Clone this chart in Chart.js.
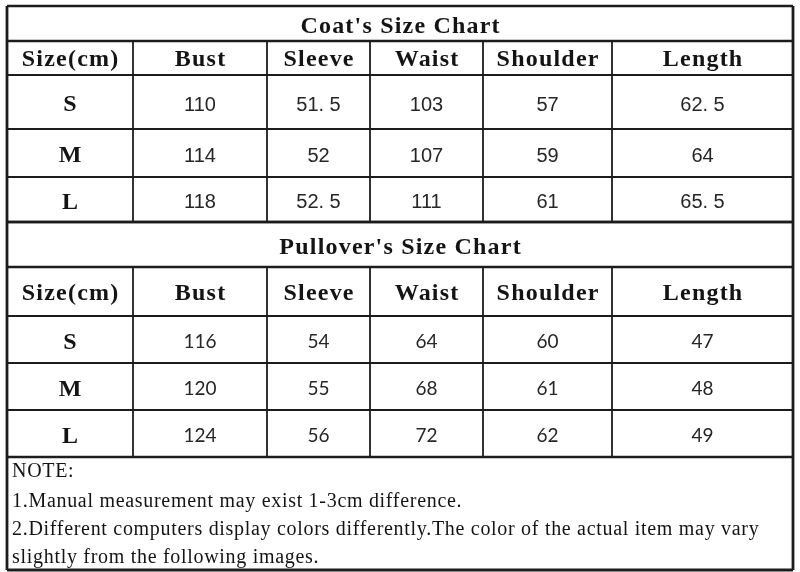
<!DOCTYPE html>
<html>
<head>
<meta charset="utf-8">
<script src="https://cdn.jsdelivr.net/npm/chart.js@4"></script>
<style>
  html, body { margin: 0; padding: 0; background: #fff; }
  #wrap { width: 800px; height: 572px; position: relative; }
</style>
</head>
<body>
<div id="wrap"><canvas id="sizeChart"></canvas></div>
<script>
// table content
const headers = ["Size(cm)", "Bust", "Sleeve", "Waist", "Shoulder", "Length"];
const sizes = ["S", "M", "L"];

const coatBust = [110, 114, 118];
const coatSleeve = [51.5, 52, 52.5];
const coatWaist = [103, 107, 111];
const coatShoulder = [57, 59, 61];
const coatLength = [62.5, 64, 65.5];

const pulloverBust = [116, 120, 124];
const pulloverSleeve = [54, 55, 56];
const pulloverWaist = [64, 68, 72];
const pulloverShoulder = [60, 61, 62];
const pulloverLength = [47, 48, 49];

const titles = ["Coat's Size Chart", "Pullover's Size Chart"];
const notes = [
  "NOTE:",
  "1.Manual measurement may exist 1-3cm difference.",
  "2.Different computers display colors differently.The color of the actual item may vary",
  "slightly from the following images.",
];

// layout (in scale units = picture px)
const colEdges = [7, 133, 267, 370, 483, 612, 793];
const coatEdges = [6, 41, 75, 129, 177, 222];
const pullEdges = [222, 267, 316, 363, 410, 457];
const bottomEdge = 570;
const noteRows = [470, 500, 528, 556];

const HEAD_FONT = "bold 24px 'Liberation Serif', serif";
const COAT_FONT = "20px 'Liberation Sans', Arial, sans-serif";
const PULL_FONT = "19px Lato, 'Open Sans', sans-serif";
const NOTE_FONT = "20px 'Liberation Serif', serif";

function mid(a, b) {
  return (a + b) / 2;
}
function colX(i) {
  return mid(colEdges[i], colEdges[i + 1]);
}
function fmtCoat(v) {
  return String(v).replace(".", ". "); // picture shows "51. 5"
}

function tableDatasets(edges, cols, fmt, font) {
  let sets = [];
  let cx = mid(colEdges[0], colEdges[colEdges.length - 1]);
  let rowY = [];
  for (let i = 0; i < sizes.length; i++) rowY.push(mid(edges[i + 2], edges[i + 3]) + 1.5);
  sets.push({ label: "title", data: [{ x: cx, y: mid(edges[0], edges[1]) + 1.5, t: cols.title }], font: HEAD_FONT, spacing: 1.2 });
  sets.push({
    label: "header",
    data: headers.map((h, i) => ({ x: colX(i), y: mid(edges[1], edges[2]) + 0.5, t: h })),
    font: HEAD_FONT,
    spacing: 1.2,
  });
  sets.push({
    label: "size",
    data: sizes.map((s, i) => ({ x: colX(0), y: rowY[i], t: s })),
    font: HEAD_FONT,
    spacing: 0,
  });
  cols.values.forEach((vals, c) => {
    sets.push({
      label: headers[c + 1],
      data: vals.map((v, i) => ({ x: colX(c + 1), y: rowY[i], t: fmt(v) })),
      font: font,
      color: "#262626",
      spacing: 0,
    });
  });
  return sets;
}

let datasets = []
  .concat(tableDatasets(coatEdges, { title: titles[0], values: [coatBust, coatSleeve, coatWaist, coatShoulder, coatLength] }, fmtCoat, COAT_FONT))
  .concat(tableDatasets(pullEdges, { title: titles[1], values: [pulloverBust, pulloverSleeve, pulloverWaist, pulloverShoulder, pulloverLength] }, String, PULL_FONT));

datasets.push({
  label: "notes",
  data: notes.map((n, i) => ({ x: 12, y: noteRows[i], t: n })),
  font: NOTE_FONT,
  spacing: 0.7,
  align: "left",
});

datasets.forEach((d) => {
  d.pointRadius = 0;
  d.showLine = false;
});

// grid lines + cell texts
const tablePlugin = {
  id: "tablePlugin",
  beforeDatasetsDraw(chart) {
    const ctx = chart.ctx;
    const xs = chart.scales.x;
    const ys = chart.scales.y;
    const X = (v) => xs.getPixelForValue(v);
    const Y = (v) => ys.getPixelForValue(v);
    ctx.save();
    ctx.strokeStyle = "#1c1c1c";
    function line(x1, y1, x2, y2, w) {
      ctx.lineWidth = w;
      ctx.beginPath();
      ctx.moveTo(X(x1), Y(y1));
      ctx.lineTo(X(x2), Y(y2));
      ctx.stroke();
    }
    let left = colEdges[0];
    let right = colEdges[colEdges.length - 1];
    [coatEdges, pullEdges].forEach((edges) => {
      edges.forEach((e, i) => {
        let w = i <= 1 || i == edges.length - 1 ? 2.6 : 2;
        line(left, e, right, e, w);
      });
      for (let c = 1; c < colEdges.length - 1; c++) {
        line(colEdges[c], edges[1], colEdges[c], edges[edges.length - 1], 1.8);
      }
    });
    line(left, bottomEdge, right, bottomEdge, 2.8);
    line(left, coatEdges[0], left, bottomEdge, 2.8);
    line(right, coatEdges[0], right, bottomEdge, 2.8);
    ctx.restore();
  },
  afterDatasetsDraw(chart) {
    const ctx = chart.ctx;
    ctx.save();
    chart.data.datasets.forEach((ds, d) => {
      let meta = chart.getDatasetMeta(d);
      ctx.font = ds.font;
      ctx.fillStyle = ds.color || "#141414";
      ctx.textAlign = ds.align || "center";
      ctx.textBaseline = "alphabetic";
      ctx.letterSpacing = (ds.spacing || 0) + "px";
      // centre the cap height on the point
      let cap = ctx.measureText("H").actualBoundingBoxAscent;
      meta.data.forEach((el, i) => {
        let off = ds.align ? 0 : (ds.spacing || 0) / 2;
        ctx.fillText(ds.data[i].t, el.x + off, el.y + cap / 2);
      });
    });
    ctx.restore();
  },
};

var ctx = document.getElementById("sizeChart").getContext("2d");
var myChart = new Chart(ctx, {
  type: "scatter",
  data: { datasets: datasets },
  options: {
    responsive: true,
    maintainAspectRatio: false,
    animation: false,
    layout: { padding: { left: 7, right: 7, top: 6, bottom: 2 } },
    plugins: { legend: { display: false }, tooltip: { enabled: false } },
    scales: {
      x: { type: "linear", min: 7, max: 793, display: false },
      y: { type: "linear", min: 6, max: 570, reverse: true, display: false },
    },
  },
  plugins: [tablePlugin],
});
</script>
</body>
</html>
